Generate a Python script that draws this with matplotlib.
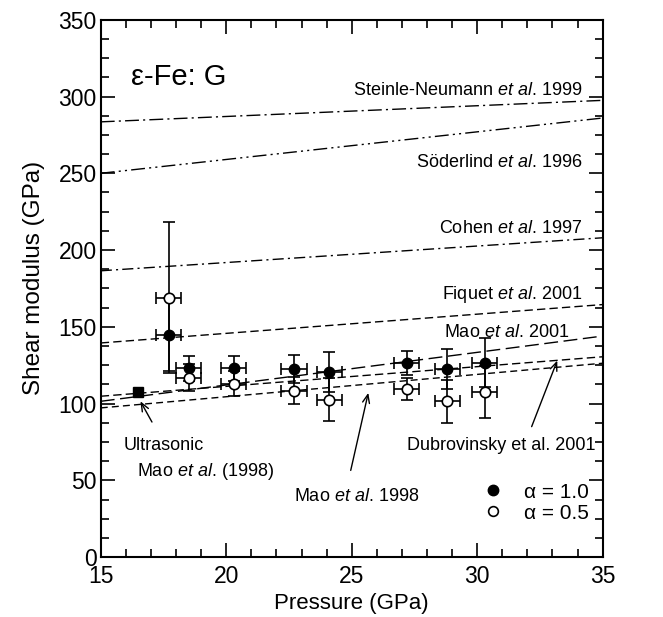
import matplotlib
matplotlib.use('Agg')
import matplotlib.pyplot as plt
from matplotlib.lines import Line2D
from matplotlib.ticker import MultipleLocator

plt.rcParams['font.family'] = ['Liberation Sans', 'DejaVu Sans']
plt.rcParams['mathtext.fontset'] = 'custom'
plt.rcParams['mathtext.rm'] = 'Liberation Sans'
plt.rcParams['mathtext.it'] = 'Liberation Sans:italic'

# measured shear modulus vs pressure
pressure = [17.7, 18.5, 20.3, 22.7, 24.1, 27.2, 28.8, 30.3]
p_err = [0.5, 0.5, 0.5, 0.5, 0.5, 0.5, 0.5, 0.5]
g_a10 = [145, 123, 123, 122.5, 120.5, 126.5, 122.5, 126.5]
g_a10_err = [24, 8, 8, 9, 13, 8, 13, 16]
g_a05 = [169, 117, 113, 108.5, 102.5, 109.5, 101.5, 107.5]
g_a05_err = [49, 9, 8, 9, 14, 7, 14, 17]

# ultrasonic point (Mao et al. 1998)
ultra_p = [16.5]
ultra_g = [107.5]

# literature curves, G at both ends of the pressure range
line_p = [15, 35]
steinle = [283.5, 297.5]
soderlind = [250, 286]
cohen = [186.5, 208]
fiquet = [139.5, 164.5]
mao2001 = [101.5, 144]
dubrovinsky = [104.8, 130.5]
mao1998 = [97.2, 126.3]

fig = plt.figure(figsize=(6.63, 6.17), dpi=100)
ax = fig.add_axes([0.152, 0.097, 0.757, 0.871])

lw = 1.0
ax.plot(line_p, steinle, color='black', lw=lw, ls=(0, (10, 3, 1.5, 3)))
ax.plot(line_p, soderlind, color='black', lw=lw, ls=(0, (10, 3, 1.5, 3, 1.5, 3)))
ax.plot(line_p, cohen, color='black', lw=lw, ls=(0, (8, 3, 1.5, 3)))
ax.plot(line_p, fiquet, color='black', lw=lw, ls=(0, (6, 3)))
ax.plot(line_p, mao2001, color='black', lw=lw, ls=(0, (10, 4)))
ax.plot(line_p, dubrovinsky, color='black', lw=lw, ls=(0, (6, 3)))
ax.plot(line_p, mao1998, color='black', lw=lw, ls=(0, (5, 3)))

ax.errorbar(pressure, g_a10, xerr=p_err, yerr=g_a10_err, fmt='o', color='black',
            mfc='black', mec='black', ms=7.5, elinewidth=1.2, capsize=4, capthick=1.2, zorder=3)
ax.errorbar(pressure, g_a05, xerr=p_err, yerr=g_a05_err, fmt='o', color='black',
            mfc='white', mec='black', ms=7.5, mew=1.2, elinewidth=1.2, capsize=4, capthick=1.2, zorder=4)
ax.plot(ultra_p, ultra_g, 's', color='black', ms=7, zorder=5)

ax.set_xlim(15, 35)
ax.set_ylim(0, 350)
ax.xaxis.set_major_locator(MultipleLocator(5))
ax.xaxis.set_minor_locator(MultipleLocator(1))
ax.yaxis.set_major_locator(MultipleLocator(50))
ax.yaxis.set_minor_locator(MultipleLocator(12.5))
ax.tick_params(which='both', direction='in', top=True, right=True, width=1.2, labelsize=16.5)
ax.tick_params(which='major', length=10, pad=3)
ax.tick_params(axis='x', which='major', pad=6)
ax.tick_params(which='minor', length=6)
for s in ax.spines.values():
    s.set_linewidth(1.5)
ax.set_xlabel('Pressure (GPa)', fontsize=16)
ax.set_ylabel('Shear modulus (GPa)', fontsize=17.5)
ax.xaxis.set_label_coords(0.5, -0.066)
ax.yaxis.set_label_coords(-0.112, 0.52)

ax.text(16.2, 313, 'ε-Fe: G', fontsize=21, va='center', ha='left')
fs = 13


def ref_label(name, tail):
    return r'$\mathrm{' + name + r'}\ \mathit{et\ al.}\,\mathrm{' + tail + '}$'


ax.text(34.2, 304, ref_label('Steinle\u2010Neumann', '1999'), fontsize=fs, ha='right', va='center')
ax.text(34.2, 257, ref_label('Söderlind', '1996'), fontsize=fs, ha='right', va='center')
ax.text(34.2, 214, ref_label('Cohen', '1997'), fontsize=fs, ha='right', va='center')
ax.text(34.2, 171, ref_label('Fiquet', '2001'), fontsize=fs, ha='right', va='center')
ax.text(33.7, 146, ref_label('Mao', '2001'), fontsize=fs, ha='right', va='center')
ax.text(34.7, 73, 'Dubrovinsky et al. 2001', fontsize=fs, ha='right', va='center')
ax.text(15.9, 73, 'Ultrasonic', fontsize=fs, ha='left', va='center')
ax.text(16.45, 56, ref_label('Mao', '(1998)'), fontsize=fs, ha='left', va='center')
ax.text(22.7, 39.5, ref_label('Mao', '1998'), fontsize=fs, ha='left', va='center')

arrow = dict(arrowstyle='->,head_length=0.6,head_width=0.25', color='black', lw=1, shrinkA=0, shrinkB=0)
ax.annotate('', xy=(16.58, 101.5), xytext=(17.04, 88), arrowprops=arrow)
ax.annotate('', xy=(25.66, 107), xytext=(24.96, 56.5), arrowprops=arrow)
ax.annotate('', xy=(33.19, 128), xytext=(32.17, 85), arrowprops=arrow)

handles = [Line2D([], [], ls='none', marker='o', ms=7.5, mfc='black', mec='black'),
           Line2D([], [], ls='none', marker='o', ms=7, mfc='white', mec='black', mew=1.2)]
ax.legend(handles, ['α = 1.0', 'α = 0.5'], loc='center left', bbox_to_anchor=(29.95, 35.5),
          bbox_transform=ax.transData, frameon=False, fontsize=15, handlelength=0.6,
          handletextpad=1.2, labelspacing=0.1, borderpad=0)

fig.savefig('out.png', dpi=100)
